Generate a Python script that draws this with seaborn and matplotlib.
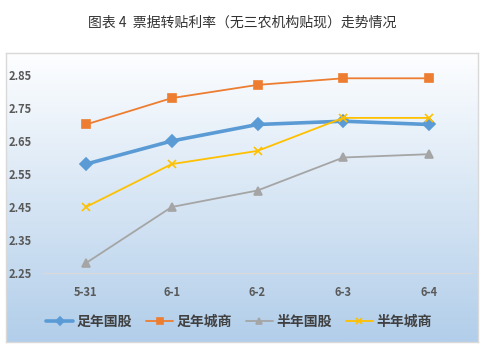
import numpy as np
import pandas as pd
import matplotlib
matplotlib.use("Agg")
import matplotlib.pyplot as plt
import seaborn as sns

sns.set_theme(style="white")
plt.rcParams['font.family'] = ['Noto Sans CJK SC', 'DejaVu Sans']

dates = ["5-31", "6-1", "6-2", "6-3", "6-4"]
zu_guogu = [2.58, 2.65, 2.70, 2.71, 2.70]
zu_chengshang = [2.70, 2.78, 2.82, 2.84, 2.84]
ban_guogu = [2.28, 2.45, 2.50, 2.60, 2.61]
ban_chengshang = [2.45, 2.58, 2.62, 2.72, 2.72]
series_names = ["足年国股", "足年城商", "半年国股", "半年城商"]
yticks = [2.25, 2.35, 2.45, 2.55, 2.65, 2.75, 2.85]
title = "图表 4  票据转贴利率（无三农机构贴现）走势情况"

values = [zu_guogu, zu_chengshang, ban_guogu, ban_chengshang]
colors = ["#5b9bd5", "#ed7d31", "#a5a5a5", "#ffc000"]
markers = ["D", "s", "^", "x"]
msizes = [6, 6, 6, 6]
lws = [2.6, 1.3, 1.3, 1.3]

df = pd.DataFrame({
    "date": dates * 4,
    "series": np.repeat(series_names, len(dates)),
    "value": np.concatenate(values),
})

W, H = 484, 348
fig = plt.figure(figsize=(W / 100, H / 100), dpi=100)
fig.patch.set_facecolor("white")

# gradient background box
bx0, bx1, by0, by1 = 6 / W, 478 / W, 1 - 342 / H, 1 - 53 / H
bg = fig.add_axes([bx0, by0, bx1 - bx0, by1 - by0], zorder=0)
grad = np.linspace(0, 1, 256).reshape(-1, 1)
top = np.array([253, 254, 255]) / 255
bot = np.array([178, 206, 234]) / 255
img = top[None, None, :] * (1 - grad[:, :, None]) + bot[None, None, :] * grad[:, :, None]
bg.imshow(img, aspect="auto", extent=[0, 1, 0, 1], origin="upper")
bg.set_xlim(0, 1); bg.set_ylim(0, 1)
bg.set_xticks([]); bg.set_yticks([])
for s in bg.spines.values():
    s.set_color("#d9d9d9"); s.set_linewidth(1)

ax = fig.add_axes([43 / W, 1 - 273 / H, 429 / W, (273 - 58.5) / H], zorder=1)
ax.patch.set_alpha(0)

for name, c, m, ms, lw in zip(series_names, colors, markers, msizes, lws):
    sub = df[df["series"] == name]
    sns.lineplot(data=sub, x="date", y="value", ax=ax, color=c, marker=m,
                 markersize=ms, linewidth=lw, markeredgecolor=c,
                 markeredgewidth=1.2, label=name, legend=False)

ax.set_xlim(-0.5, len(dates) - 0.5)
ax.set_ylim(2.25, 2.90)
ax.set_yticks(yticks)
ax.set_yticklabels([f"{v:.2f}" for v in yticks])
ax.set_xlabel(""); ax.set_ylabel("")
for s in ["top", "right", "left"]:
    ax.spines[s].set_visible(False)
ax.spines["bottom"].set_color("#d9d9d9")
ax.spines["bottom"].set_linewidth(0.8)
ax.tick_params(axis="both", length=0, labelsize=8, labelcolor="#595959")
ax.tick_params(axis="x", pad=9)
for lab in ax.get_xticklabels() + ax.get_yticklabels():
    lab.set_fontweight("bold")
for lab in ax.get_yticklabels():
    lab.set_horizontalalignment("left")
ax.yaxis.set_tick_params(pad=25)

handles, labels = ax.get_legend_handles_labels()
leg = fig.legend(handles, labels, loc="center", bbox_to_anchor=(0.493, 1 - 322 / H),
                 ncol=4, frameon=False, prop={"size": 10, "weight": "bold"},
                 handlelength=2.0, columnspacing=1.0, handletextpad=0.2,
                 markerscale=0.7, labelcolor="#404040")

fig.text(0.5, 1 - 23 / H, title, ha="center", va="center", fontsize=10, color="#333333")

fig.savefig("out.png", dpi=100)
